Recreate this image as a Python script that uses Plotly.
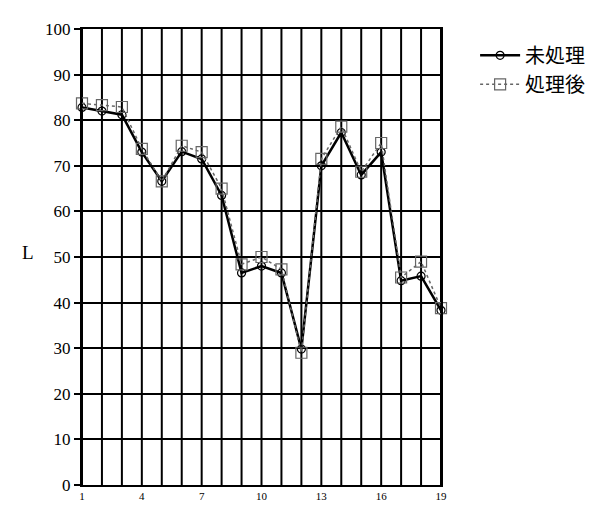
import plotly.graph_objects as go

x_vals = list(range(1, 20))
untreated = [82.8, 82.0, 81.2, 73.0, 66.6, 73.1, 71.5, 63.5, 46.5, 48.0, 46.5, 29.8, 70.0, 77.3, 68.0, 73.0, 44.8, 45.8, 38.3]
treated = [83.7, 83.3, 82.9, 73.7, 66.6, 74.4, 73.0, 65.0, 48.4, 50.0, 47.3, 29.0, 71.5, 78.6, 68.7, 75.0, 45.5, 49.0, 38.8]
x_ticks = [1, 4, 7, 10, 13, 16, 19]
y_ticks = [0, 10, 20, 30, 40, 50, 60, 70, 80, 90, 100]

fig = go.Figure()
fig.add_trace(go.Scatter(
    x=x_vals, y=untreated, name="未処理", mode="lines+markers", legendgroup="a",
    cliponaxis=False,
    line=dict(color="black", width=2.5),
    marker=dict(symbol="circle-open", size=8, color="black", line=dict(width=1.2)),
))
fig.add_trace(go.Scatter(
    x=x_vals, y=treated, name="処理後", mode="lines+markers", legendgroup="b",
    cliponaxis=False,
    line=dict(color="#666666", width=1.5, dash="dot"),
    marker=dict(symbol="square-open", size=11, color="#666666", line=dict(width=1.2)),
))

fig.update_layout(
    width=599, height=506,
    margin=dict(l=74, r=166, t=17, b=22),
    paper_bgcolor="white", plot_bgcolor="white",
    font=dict(family="Liberation Serif", color="black"),
    showlegend=True,
    legend=dict(x=1.095, y=0.985, xanchor="left", yanchor="top",
                font=dict(family="Noto Sans CJK JP", size=20, color="black"),
                tracegroupgap=0, itemwidth=40, bgcolor="rgba(0,0,0,0)"),
    xaxis=dict(range=[1, 19], tickmode="array", tickvals=x_ticks,
               ticktext=[str(v) for v in x_ticks],
               showgrid=False, zeroline=False,
               showline=True, linecolor="black", linewidth=2, mirror=True,
               ticks="", tickfont=dict(size=11, family="Liberation Serif")),
    yaxis=dict(range=[0, 100], tickmode="array", tickvals=y_ticks,
               showgrid=True, gridcolor="black", gridwidth=2,
               zeroline=False, showline=True, linecolor="black", linewidth=2, mirror=True,
               ticks="outside", ticklen=6, tickwidth=2, tickcolor="black",
               tickfont=dict(size=17, family="Liberation Serif")),
)

# vertical grid lines at every integer
for xv in x_vals:
    fig.add_shape(type="line", xref="x", yref="paper", x0=xv, x1=xv, y0=0, y1=1,
                  line=dict(color="black", width=2), layer="below")

fig.add_annotation(text="L", xref="paper", yref="paper", x=-0.15, y=0.51,
                   showarrow=False, font=dict(size=19, family="Liberation Serif"),
                   xanchor="center", yanchor="middle")

fig.write_html("out.html")
